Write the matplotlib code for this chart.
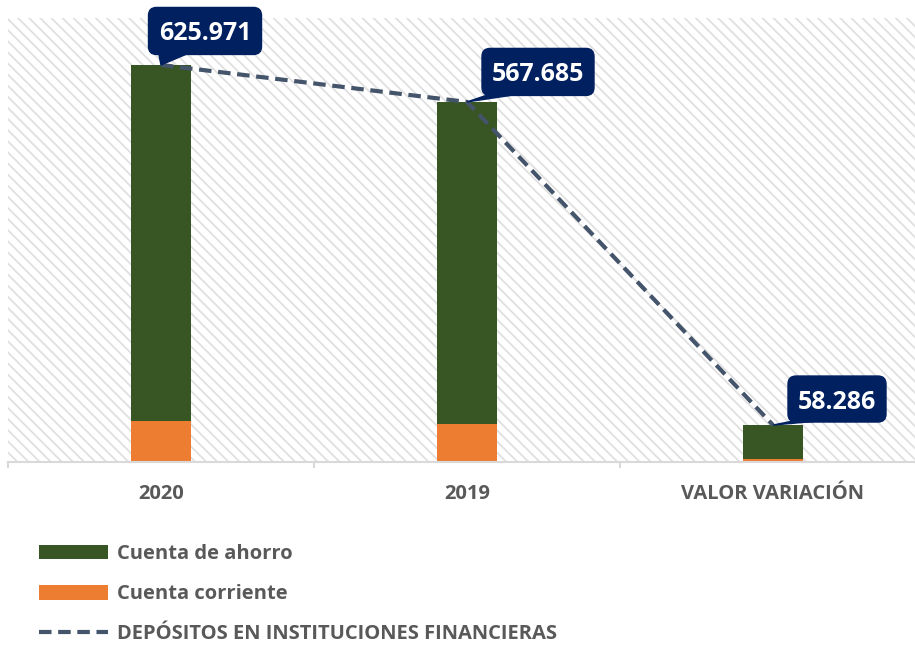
import numpy as np
import matplotlib.pyplot as plt
from matplotlib.patches import Rectangle, Polygon, FancyBboxPatch
from matplotlib.lines import Line2D

categories = ['2020', '2019', 'VALOR VARIACIÓN']
ahorro = [561.5, 507.7, 53.8]
corriente = [64.5, 60.0, 4.5]
totales = [625.971, 567.685, 58.286]
etiquetas = ['625.971', '567.685', '58.286']

plt.rcParams['font.family'] = ['Open Sans', 'DejaVu Sans']

W, H = 915, 645
fig = plt.figure(figsize=(W / 100, H / 100), dpi=100)
ax = fig.add_axes([8 / W, (H - 462) / H, 918 / W, 444 / H])

x = np.arange(len(categories))
verde = '#375623'
naranja = '#ed7d31'
linea = '#44546a'
caja = '#002060'
gris = '#595959'

# fondo rayado
plt.rcParams['hatch.color'] = '#e0e0e0'
plt.rcParams['hatch.linewidth'] = 1.3
ax.add_patch(Rectangle((0, 0), 1, 1, transform=ax.transAxes, facecolor='white',
                       edgecolor='#e0e0e0', hatch='\\\\\\', linewidth=0, zorder=0))

ax.bar(x, corriente, width=0.193, color=naranja, zorder=2)
ax.bar(x, ahorro, width=0.193, bottom=corriente, color=verde, zorder=2)
ax.plot(x, totales, color=linea, lw=3, ls=(0, (3, 1.6)), zorder=3)

ax.set_xlim(-0.5, 2.5)
ax.set_ylim(0, 700)
ax.set_yticks([])
for s in ['top', 'right', 'left']:
    ax.spines[s].set_visible(False)
ax.spines['bottom'].set_color('#d9d9d9')
ax.spines['bottom'].set_linewidth(1.5)
ax.set_xticks(x)
ax.set_xticklabels(categories, fontsize=14.5, fontweight='bold', color=gris)
ax.tick_params(axis='x', length=0, pad=16)
for xb in [-0.5, 0.5, 1.5]:
    ax.plot([xb, xb], [0, -8], color='#d9d9d9', lw=1.5, clip_on=False)

# etiquetas tipo globo: (dx, dy, ancho, alto) en pixeles
globos = [(44, 34, 113, 47), (71, 30, 112, 47), (64, 26, 98, 46)]
fig.canvas.draw()
for xi, yi, txt, (dx, dy, bw, bh) in zip(x, totales, etiquetas, globos):
    px, py = ax.transData.transform((xi, yi))
    cx, cy = px + dx, py + dy
    box = FancyBboxPatch((cx - bw / 2 + 6, cy - bh / 2 + 6), bw - 12, bh - 12,
                         boxstyle='round,pad=6,rounding_size=8',
                         transform=None, facecolor=caja, edgecolor=caja,
                         zorder=5, clip_on=False)
    fig.add_artist(box)
    x0 = cx - bw / 2
    y0 = cy - bh / 2
    tri = Polygon([(x0 + 10, y0 + 2), (x0 + 42, y0 + 2), (px, py)],
                  closed=True, transform=None, facecolor=caja, edgecolor=caja,
                  zorder=5, clip_on=False)
    fig.add_artist(tri)
    fig.text(cx, cy, txt, transform=None, ha='center', va='center_baseline',
             fontsize=18, fontweight='bold', color='white', zorder=6)

# leyenda
leg_items = [
    (Rectangle((0, 0), 1, 1, facecolor=verde), 'Cuenta de ahorro'),
    (Rectangle((0, 0), 1, 1, facecolor=naranja), 'Cuenta corriente'),
    (Line2D([0], [0], color=linea, lw=3, ls=(0, (3, 1.6))),
     'DEPÓSITOS EN INSTITUCIONES FINANCIERAS'),
]
leg = fig.legend([h for h, _ in leg_items], [l for _, l in leg_items],
                 loc='upper left', bbox_to_anchor=(21 / W, 1 - 526 / H),
                 frameon=False, handlelength=3.4, handleheight=0.75,
                 handletextpad=0.45, labelspacing=1.0,
                 prop=dict(size=14.5, weight='bold'))
for t in leg.get_texts():
    t.set_color(gris)

fig.savefig('out.png', dpi=100)
